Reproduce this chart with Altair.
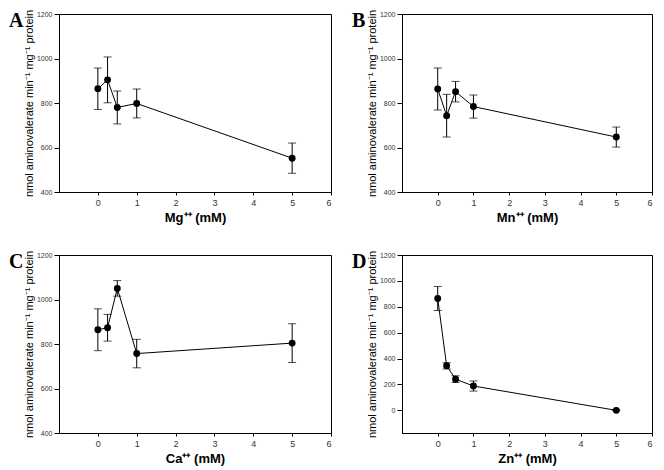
import altair as alt
import pandas as pd

conc = [0, 0.25, 0.5, 1, 5]

mg_mean = [864, 904, 780, 798, 552]
mg_err = [93, 103, 74, 65, 68]
mn_mean = [863, 743, 851, 784, 647]
mn_err = [94, 96, 46, 52, 45]
ca_mean = [864, 873, 1050, 757, 804]
ca_err = [94, 60, 35, 64, 87]
zn_mean = [864, 344, 241, 188, 0]
zn_err = [92, 24, 26, 39, 0]

x_ticks = [0, 1, 2, 3, 4, 5, 6]
y_ticks_a = [400, 600, 800, 1000, 1200]
y_ticks_d = [0, 200, 400, 600, 800, 1000, 1200]

Y_TITLE = "nmol aminovalerate min\u207b\u00b9 mg\u207b\u00b9 protein"


def panel(letter, ion, mean, err, ydom, yticks, w, h):
    df = pd.DataFrame({"x": conc, "y": mean, "lo": [m - e for m, e in zip(mean, err)],
                       "hi": [m + e for m, e in zip(mean, err)]})
    xs = alt.Scale(domain=[-1, 6], nice=False, zero=False)
    ys = alt.Scale(domain=ydom, nice=False, zero=False)
    x_axis = alt.Axis(values=x_ticks, title=ion + "\u207a\u207a (mM)",
                      grid=False, tickSize=3, labelFontSize=9,
                      labelPadding=3, titleFontSize=13, titleFontWeight="bold",
                      titlePadding=4, format="d", labelOverlap=False)
    y_axis = alt.Axis(values=yticks, title=Y_TITLE, grid=False,
                      tickSize=5, labelFontSize=7, labelPadding=2,
                      titleFontSize=11, titleFontWeight="normal",
                      titlePadding=2, format="d", labelOverlap=False)
    X = alt.X("x:Q", scale=xs, axis=x_axis)
    base = alt.Chart(df)
    rule = base.mark_rule(color="black", strokeWidth=1).encode(
        x=X, y=alt.Y("lo:Q", scale=ys, axis=y_axis), y2="hi:Q")
    cap_lo = base.mark_tick(orient="horizontal", color="black", size=8, thickness=1).encode(
        x=X, y=alt.Y("lo:Q", scale=ys, axis=y_axis))
    cap_hi = base.mark_tick(orient="horizontal", color="black", size=8, thickness=1).encode(
        x=X, y=alt.Y("hi:Q", scale=ys, axis=y_axis))
    line = base.mark_line(color="black", strokeWidth=1).encode(
        x=X, y=alt.Y("y:Q", scale=ys, axis=y_axis))
    pts = base.mark_point(filled=True, color="black", size=48, opacity=1).encode(
        x=X, y=alt.Y("y:Q", scale=ys, axis=y_axis))
    return alt.layer(rule, cap_lo, cap_hi, line, pts).properties(
        width=w, height=h,
        title=alt.TitleParams(text=letter, anchor="start", frame="group", dx=-50, offset=-12,
                              font="Liberation Serif", fontSize=20, fontWeight="bold",
                              color="black", baseline="top", dy=10))


a = panel("A", "Mg", mg_mean, mg_err, [400, 1200], y_ticks_a, 272, 178)
b = panel("B", "Mn", mn_mean, mn_err, [400, 1200], y_ticks_a, 250, 178)
c = panel("C", "Ca", ca_mean, ca_err, [400, 1200], y_ticks_a, 272, 178)
d = panel("D", "Zn", zn_mean, zn_err, [-175, 1200], y_ticks_d, 250, 178)

chart = alt.concat(a, b, c, d, columns=2, bounds="flush",
                   spacing=alt.RowColnumber(row=63, column=71)).configure(
    font="Liberation Sans", padding=0, background="white"
).configure_view(stroke="black", strokeWidth=1).configure_axis(
    domainColor="black", tickColor="black", labelColor="#333333", titleColor="black",
    labelFont="Liberation Sans", titleFont="Liberation Sans"
)

chart.save("out.html", embed_options={"renderer": "svg", "actions": False})
